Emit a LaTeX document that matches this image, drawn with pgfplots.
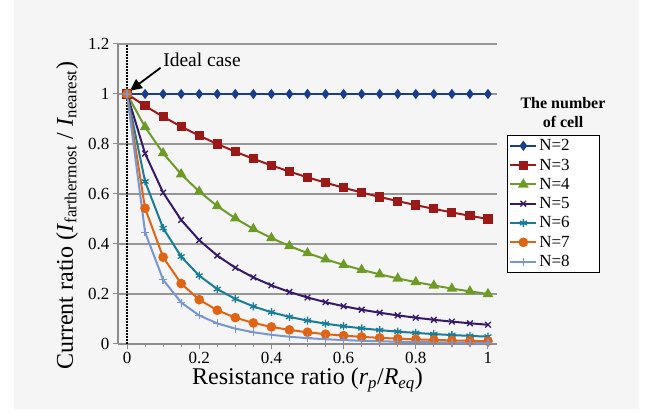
\documentclass[border=0pt]{standalone}
\usepackage{fontspec}
\setmainfont{Liberation Serif}
\usepackage{pgfplots}
\usepackage{pgfplotstable}
\pgfplotsset{compat=1.18}
\usetikzlibrary{arrows.meta,plotmarks}
\definecolor{bggray}{RGB}{245,245,245}
\definecolor{axgray}{RGB}{140,140,140}
\definecolor{grgray}{RGB}{150,150,150}
\definecolor{c2}{RGB}{25,60,140}
\definecolor{c3}{RGB}{155,25,25}
\definecolor{c4}{RGB}{110,155,40}
\definecolor{c5}{RGB}{55,25,105}
\definecolor{c6}{RGB}{25,125,150}
\definecolor{c7}{RGB}{225,100,20}
\definecolor{c8}{RGB}{120,150,210}
\pgfplotstableread{
x n2 n3 n4 n5 n6 n7 n8
0.00 1 1.0000 1.0000 1.0000 1.0000 1.0000 1.0000
0.05 1 0.9524 0.8677 0.7618 0.6500 0.5432 0.4473
0.10 1 0.9091 0.7634 0.6057 0.4636 0.3474 0.2572
0.15 1 0.8696 0.6791 0.4961 0.3495 0.2417 0.1658
0.20 1 0.8333 0.6098 0.4153 0.2734 0.1773 0.1143
0.25 1 0.8000 0.5517 0.3536 0.2197 0.1349 0.0825
0.30 1 0.7692 0.5025 0.3052 0.1803 0.1055 0.0615
0.35 1 0.7407 0.4603 0.2663 0.1503 0.0842 0.0470
0.40 1 0.7143 0.4237 0.2345 0.1270 0.0683 0.0367
0.45 1 0.6897 0.3918 0.2082 0.1085 0.0563 0.0291
0.50 1 0.6667 0.3636 0.1860 0.0936 0.0469 0.0234
0.55 1 0.6452 0.3387 0.1673 0.0813 0.0394 0.0191
0.60 1 0.6250 0.3165 0.1511 0.0712 0.0335 0.0157
0.65 1 0.6061 0.2965 0.1372 0.0627 0.0286 0.0130
0.70 1 0.5882 0.2786 0.1251 0.0556 0.0246 0.0109
0.75 1 0.5714 0.2623 0.1145 0.0495 0.0214 0.0092
0.80 1 0.5556 0.2475 0.1051 0.0443 0.0186 0.0078
0.85 1 0.5405 0.2341 0.0968 0.0397 0.0163 0.0067
0.90 1 0.5263 0.2217 0.0895 0.0358 0.0143 0.0057
0.95 1 0.5128 0.2104 0.0829 0.0324 0.0127 0.0049
1.00 1 0.5000 0.2000 0.0769 0.0294 0.0112 0.0043
}\datatable
\newcommand{\legent}[1]{\makebox[56pt][l]{#1}}
\begin{document}
\begin{tikzpicture}[x=1pt,y=1pt]
\fill[white] (-118,-68) rectangle (530,344);
\fill[bggray] (-104,-65) rectangle (521,344);
\begin{axis}[
  at={(0,0)}, anchor=south west,
  scale only axis, width=379pt, height=300pt,
  xmin=-0.025, xmax=1.025, ymin=0, ymax=1.2,
  axis lines=left,
  axis line style={draw=axgray, line width=1.2pt, -},
  xtick={0,0.2,0.4,0.6,0.8,1},
  xticklabels={0,0.2,0.4,0.6,0.8,1},
  minor x tick num=3,
  ytick={0,0.2,0.4,0.6,0.8,1,1.2},
  yticklabels={0,0.2,0.4,0.6,0.8,1,1.2},
  tick align=outside,
  major tick length=5pt, minor tick length=3pt,
  tick style={draw=axgray, line width=1pt},
  ymajorgrids,
  grid style={draw=grgray, line width=1.2pt},
  ticklabel style={font=\fontsize{17}{20}\selectfont},
  xlabel={Resistance ratio (\textit{r}\textsubscript{\textit{p}}/\textit{R}\textsubscript{\textit{eq}})},
  xlabel style={font=\fontsize{24}{27}\selectfont, at={(axis description cs:0.5,-0.12)}, anchor=center},
  ylabel={Current ratio (\textit{I}\textsubscript{farthermost} / \textit{I}\textsubscript{nearest})},
  ylabel style={font=\fontsize{24}{27}\selectfont, at={(axis description cs:-0.1346,0.427)}, anchor=center},
  legend style={at={(rel axis cs:1.026,0.697)}, anchor=north west, draw=black, line width=1pt,
    font=\fontsize{17}{19}\selectfont, fill=white, row sep=2.6pt, inner sep=2pt},
  legend cell align=left,
  legend image code/.code={\draw[mark repeat=2,mark phase=2] plot coordinates {(0pt,0pt) (13pt,0pt) (26pt,0pt)};},
  every axis plot/.append style={line width=2pt, mark options={solid}},
  clip=false,
]
\draw[black, line width=1.6pt, dash pattern=on 1.5pt off 1.5pt] (axis cs:0,0) -- (axis cs:0,1.2);
\addplot[c2, mark=diamond*, mark size=3.5pt, mark options={fill=c2}] table[x=x,y=n2]{\datatable};
\addlegendentry{\legent{N=2}}
\addplot[c3, mark=square*, mark size=3.6pt, mark options={fill=c3}] table[x=x,y=n3]{\datatable};
\addlegendentry{\legent{N=3}}
\addplot[c4, mark=triangle*, mark size=4.2pt, mark options={fill=c4}] table[x=x,y=n4]{\datatable};
\addlegendentry{\legent{N=4}}
\addplot[c5, mark=x, mark size=4pt, mark options={line width=1.3pt}] table[x=x,y=n5]{\datatable};
\addlegendentry{\legent{N=5}}
\addplot[c6, mark=asterisk, mark size=4pt, mark options={line width=1.3pt}] table[x=x,y=n6]{\datatable};
\addlegendentry{\legent{N=6}}
\addplot[c7, mark=*, mark size=3.8pt, mark options={fill=c7}] table[x=x,y=n7]{\datatable};
\addlegendentry{\legent{N=7}}
\addplot[c8, mark=+, mark size=4pt, mark options={line width=1.3pt}] table[x=x,y=n8]{\datatable};
\addlegendentry{\legent{N=8}}
\draw[black, line width=1.8pt, -{Triangle[length=12pt,width=11pt]}] (axis cs:0.093,1.105) -- (axis cs:0.008,1.013);
\node[anchor=west, font=\fontsize{19.5}{22}\selectfont, inner sep=0pt] at (axis cs:0.1,1.136) {Ideal case};
\end{axis}
\node[align=center, font=\bfseries\fontsize{16}{19}\selectfont] at (445,231) {The number\\of cell};
\pgfresetboundingbox
\path[use as bounding box] (-118,-68) rectangle (530,344);
\end{tikzpicture}
\end{document}
